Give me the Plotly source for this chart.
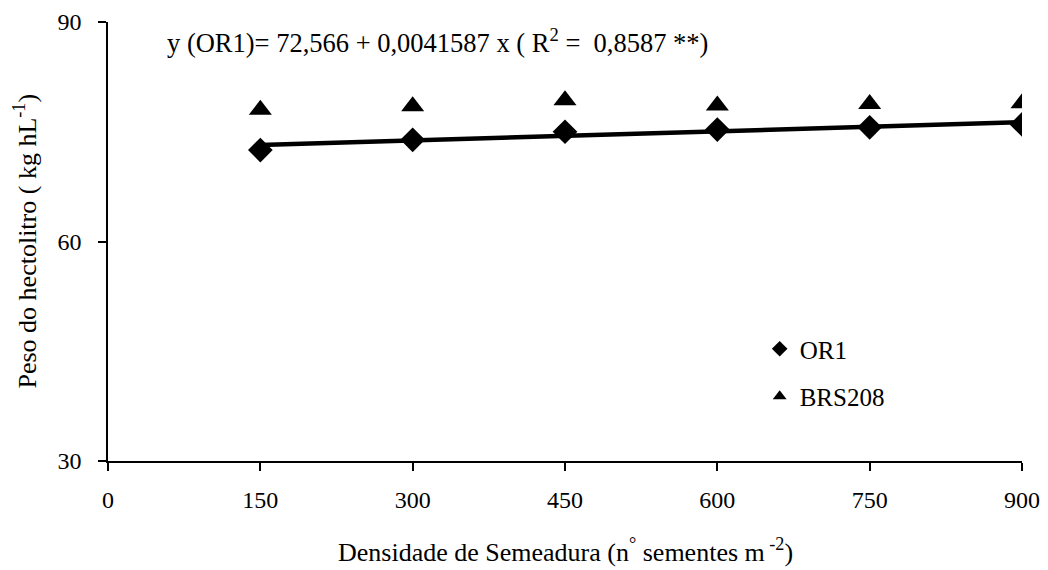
import plotly.graph_objects as go

densidade = [150, 300, 450, 600, 750, 900]
or1 = [72.5, 73.9, 75.0, 75.3, 75.6, 76.0]
brs208 = [78.0, 78.5, 79.3, 78.6, 78.8, 78.9]
intercepto = 72.566
inclinacao = 0.0041587
x_ticks = [0, 150, 300, 450, 600, 750, 900]
y_ticks = [30, 60, 90]

linha_x = [densidade[0], densidade[-1]]
linha_y = [intercepto + inclinacao * v for v in linha_x]

font = "Liberation Serif"

fig = go.Figure()
fig.add_trace(go.Scatter(x=linha_x, y=linha_y, mode="lines",
                         line=dict(color="black", width=4.5), showlegend=False,
                         hoverinfo="skip"))
fig.add_trace(go.Scatter(x=densidade, y=brs208, mode="markers", name="BRS208",
                         marker=dict(symbol="triangle-up", size=20, color="black"),
                         legend="legend2"))
fig.add_trace(go.Scatter(x=densidade, y=or1, mode="markers", name="OR1",
                         marker=dict(symbol="diamond", size=19, color="black"),
                         legend="legend"))

fig.update_layout(
    width=1040, height=562,
    margin=dict(l=100, r=26, t=14, b=109),
    paper_bgcolor="white", plot_bgcolor="white",
    font=dict(family=font, size=24, color="black"),
    legend=dict(x=0.713, y=0.255, xanchor="left", yanchor="middle",
                font=dict(family=font, size=25), itemwidth=30, itemsizing="constant",
                bgcolor="rgba(0,0,0,0)"),
    legend2=dict(x=0.713, y=0.147, xanchor="left", yanchor="middle",
                 font=dict(family=font, size=25), itemwidth=30, itemsizing="constant",
                 bgcolor="rgba(0,0,0,0)"),
    xaxis=dict(range=[0, 900], tickvals=x_ticks, ticks="outside", ticklen=8,
               tickwidth=1.5, tickcolor="black", showline=True, linecolor="black",
               linewidth=1.5, showgrid=False, zeroline=False, automargin=False,
               tickfont=dict(family=font, size=24), ticklabelstandoff=8),
    yaxis=dict(range=[30, 90], tickvals=y_ticks, ticks="outside", ticklen=8,
               tickwidth=1.5, tickcolor="black", showline=True, linecolor="black",
               linewidth=1.5, showgrid=False, zeroline=False, automargin=False,
               tickfont=dict(family=font, size=24), ticklabelstandoff=12),
    annotations=[
        dict(x=0.062, y=1.0, xref="paper", yref="paper", xanchor="left",
             yanchor="top", showarrow=False,
             text="y (OR1)= 72,566 + 0,0041587 x ( R<sup>2</sup> =  0,8587 **)",
             font=dict(family=font, size=26.5)),
        dict(x=0, y=0.5, xref="paper", yref="paper", xanchor="center",
             yanchor="middle", xshift=-82, textangle=-90, showarrow=False,
             text="Peso do hectolitro ( kg hL<sup>-1</sup>)",
             font=dict(family=font, size=26)),
        dict(x=0.5, y=0, xref="paper", yref="paper", xanchor="center",
             yanchor="middle", yshift=-89, showarrow=False,
             text="Densidade de Semeadura (n<sup>°</sup> sementes m<sup> -2</sup>)",
             font=dict(family=font, size=26)),
    ],
)

fig.write_html("out.html")
